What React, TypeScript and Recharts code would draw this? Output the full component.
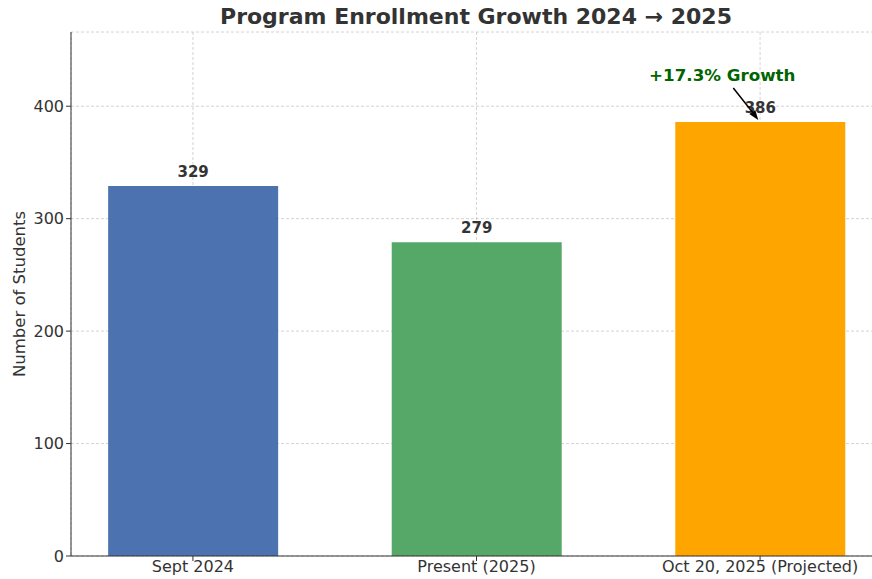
import React from "react";
import {
  BarChart,
  Bar,
  Cell,
  XAxis,
  YAxis,
  CartesianGrid,
  LabelList,
} from "recharts";

const CATEGORIES = ["Sept 2024", "Present (2025)", "Oct 20, 2025 (Projected)"];
const STUDENTS = [329, 279, 386];
const COLORS = ["#4C72B0", "#55A868", "#FFA500"];
const Y_TICKS = [0, 100, 200, 300, 400];
const GROWTH_TEXT = "+17.3% Growth";

const FONT = "'DejaVu Sans', sans-serif";

const data = CATEGORIES.map((name, i) => ({ name, pos: i, value: STUDENTS[i] }));

function ValueLabel(props: any) {
  const { x, y, width, value, index } = props;
  const cx = x + width / 2;
  return (
    <g>
      <text
        x={cx}
        y={y - 9}
        textAnchor="middle"
        fontFamily={FONT}
        fontSize={15}
        fontWeight="bold"
        fill="#333333"
      >
        {value}
      </text>
      {index === 2 && (
        <g>
          <text
            x={cx - 38}
            y={y - 41}
            textAnchor="middle"
            fontFamily={FONT}
            fontSize={16.7}
            fontWeight="bold"
            fill="#006400"
          >
            {GROWTH_TEXT}
          </text>
          <line x1={cx - 27} y1={y - 34} x2={cx - 4} y2={y - 5} stroke="#000" strokeWidth={1.5} />
          <path
            d={`M ${cx - 2} ${y - 2} L ${cx - 11} ${y - 8} L ${cx - 5} ${y - 12} Z`}
            fill="#000"
          />
        </g>
      )}
    </g>
  );
}

export default function App() {
  return (
    <div
      style={{
        position: "fixed",
        left: 0,
        top: 0,
        width: 872,
        height: 579,
        overflow: "hidden",
        background: "#fff",
      }}
    >
      <div
        style={{
          position: "absolute",
          top: 4,
          left: 476,
          transform: "translateX(-50%)",
          whiteSpace: "nowrap",
          fontFamily: FONT,
          fontWeight: "bold",
          fontSize: 22,
          color: "#333333",
        }}
      >
        Program Enrollment Growth 2024 → 2025
      </div>
      <BarChart
        width={900}
        height={579}
        data={data}
        margin={{ top: 32, right: 18, bottom: 0, left: 0 }}
      >
        <XAxis
          type="number"
          dataKey="pos"
          domain={[-0.43, 2.43]}
          ticks={[0, 1, 2]}
          tickFormatter={(i: number) => CATEGORIES[i]}
          allowDataOverflow
          height={23}
          stroke="#333333"
          tickSize={5}
          tickMargin={0}
          tick={{ fill: "#333333", fontSize: 16, fontFamily: FONT }}
          interval={0}
        />
        <YAxis
          type="number"
          domain={[0, 466]}
          ticks={Y_TICKS}
          allowDataOverflow
          width={71}
          stroke="#333333"
          tickSize={5}
          tickMargin={2}
          tick={{ fill: "#333333", fontSize: 16, fontFamily: FONT }}
          label={{
            content: (p: any) => {
              const vb = p.viewBox;
              const cy = vb.y + vb.height / 2;
              return (
                <text
                  x={19}
                  y={cy}
                  transform={`rotate(-90, 19, ${cy})`}
                  textAnchor="middle"
                  dominantBaseline="central"
                  fontFamily={FONT}
                  fontSize={16.5}
                  fill="#333333"
                >
                  Number of Students
                </text>
              );
            },
          }}
        />
        <Bar dataKey="value" barSize={170} isAnimationActive={false}>
          {data.map((d, i) => (
            <Cell key={d.name} fill={COLORS[i]} />
          ))}
          <LabelList dataKey="value" content={ValueLabel} />
        </Bar>
        <CartesianGrid
          strokeDasharray="3 2"
          stroke="#b8b8b8"
          strokeOpacity={0.6}
        />
      </BarChart>
    </div>
  );
}
